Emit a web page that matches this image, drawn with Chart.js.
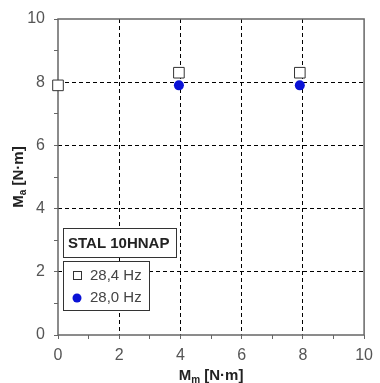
<!DOCTYPE html>
<html>
<head>
<meta charset="utf-8">
<script src="https://cdn.jsdelivr.net/npm/chart.js@4"></script>
<style>
  html, body { margin: 0; padding: 0; background: #fff; }
  #wrap { width: 380px; height: 383px; }
</style>
</head>
<body>
<div id="wrap"><canvas id="myChart" width="380" height="383"></canvas></div>
<script>
// Data.
const mm284 = [0, 3.95, 7.9];
const ma284 = [7.9, 8.3, 8.3];
const mm280 = [3.95, 7.9];
const ma280 = [7.9, 7.9];
const seriesLabels = ['28,4 Hz', '28,0 Hz'];
const materialLabel = 'STAL 10HNAP';
const axisTicks = [0, 2, 4, 6, 8, 10];

const blue = '#0a12d6';
const FONT = '"Liberation Sans", Arial, sans-serif';

function toPoints(xs, ys) {
  return xs.map((x, i) => ({ x: x, y: ys[i] }));
}

// Grid only on the labelled inner ticks.
function gridColor(ctx) {
  const v = ctx.tick.value;
  return (axisTicks.includes(v) && v > 0 && v < 10) ? '#000' : 'rgba(0,0,0,0)';
}

function tickLabel(v) {
  return axisTicks.includes(v) ? String(v) : '';
}

// Frame under the markers, titles and legend boxes on top.
const decorPlugin = {
  id: 'decor',
  beforeDatasetsDraw(chart) {
    const c = chart.ctx;
    const a = chart.chartArea;
    c.save();
    c.strokeStyle = '#666';
    c.lineWidth = 1.5;
    c.strokeRect(a.left, a.top, a.right - a.left, a.bottom - a.top);
    c.restore();
  },
  afterDraw(chart) {
    const c = chart.ctx;
    const a = chart.chartArea;
    c.save();

    // axis titles
    function title(main, sub, rest, cx, cy, rotate) {
      c.save();
      c.translate(cx, cy);
      if (rotate) c.rotate(-Math.PI / 2);
      c.fillStyle = '#222';
      c.textBaseline = 'alphabetic';
      c.font = 'bold 15px ' + FONT;
      const w1 = c.measureText(main).width;
      const w3 = c.measureText(rest).width;
      c.font = 'bold 10px ' + FONT;
      const w2 = c.measureText(sub).width;
      let x = -(w1 + w2 + w3) / 2;
      c.font = 'bold 15px ' + FONT;
      c.fillText(main, x, 5);
      x += w1;
      c.font = 'bold 10px ' + FONT;
      c.fillText(sub, x, 8);
      x += w2;
      c.font = 'bold 15px ' + FONT;
      c.fillText(rest, x, 5);
      c.restore();
    }
    title('M', 'm', ' [N\u00b7m]', (a.left + a.right) / 2, 375, false);
    title('M', 'a', ' [N\u00b7m]', 18, (a.top + a.bottom) / 2, true);

    // material box
    c.fillStyle = '#fff';
    c.strokeStyle = '#333';
    c.lineWidth = 1;
    c.fillRect(63.5, 228.5, 113, 29);
    c.strokeRect(63.5, 228.5, 113, 29);
    c.fillStyle = '#222';
    c.font = 'bold 15px ' + FONT;
    c.textBaseline = 'middle';
    c.textAlign = 'left';
    c.fillText(materialLabel, 68, 243.5);

    // series legend
    c.fillStyle = '#fff';
    c.fillRect(63.5, 261.5, 86, 49);
    c.strokeRect(63.5, 261.5, 86, 49);
    c.strokeStyle = '#333';
    c.strokeRect(73.5, 271.5, 8, 8);
    c.fillStyle = blue;
    c.beginPath();
    c.arc(77, 298, 4.5, 0, Math.PI * 2);
    c.fill();
    c.fillStyle = '#444';
    c.font = '15px ' + FONT;
    c.fillText(seriesLabels[0], 90, 276);
    c.fillText(seriesLabels[1], 90, 298);

    c.restore();
  }
};

const config = {
  type: 'scatter',
  data: {
    datasets: [
      {
        label: seriesLabels[0],
        data: toPoints(mm284, ma284),
        pointStyle: 'rect',
        pointRadius: 7.5,
        pointHoverRadius: 7.5,
        backgroundColor: '#fff',
        borderColor: '#333',
        borderWidth: 1,
        clip: false,
      },
      {
        label: seriesLabels[1],
        data: toPoints(mm280, ma280),
        pointStyle: 'circle',
        pointRadius: 5,
        pointHoverRadius: 5,
        backgroundColor: blue,
        borderColor: blue,
        borderWidth: 0,
        clip: false,
      },
    ],
  },
  options: {
    responsive: false,
    animation: false,
    layout: { padding: { left: 0, top: 19, right: 9, bottom: 0 } },
    plugins: { legend: { display: false }, tooltip: { enabled: false } },
    scales: {
      x: {
        type: 'linear',
        min: 0,
        max: 10,
        afterFit(scale) { scale.height = 48; },
        ticks: {
          stepSize: 1,
          autoSkip: false,
          maxRotation: 0,
          padding: 7,
          color: '#555',
          font: { family: FONT, size: 16 },
          callback: tickLabel,
        },
        grid: { color: gridColor, tickColor: '#666', tickLength: 4, lineWidth: 1 },
        border: { display: false, dash: [4, 3] },
      },
      y: {
        type: 'linear',
        min: 0,
        max: 10,
        afterFit(scale) { scale.width = 58; },
        ticks: {
          stepSize: 1,
          autoSkip: false,
          padding: 9,
          color: '#555',
          font: { family: FONT, size: 16 },
          callback: tickLabel,
        },
        grid: { color: gridColor, tickColor: '#666', tickLength: 4, lineWidth: 1 },
        border: { display: false, dash: [4, 3] },
      },
    },
  },
  plugins: [decorPlugin],
};

const chart = new Chart(document.getElementById('myChart'), config);
</script>
</body>
</html>
